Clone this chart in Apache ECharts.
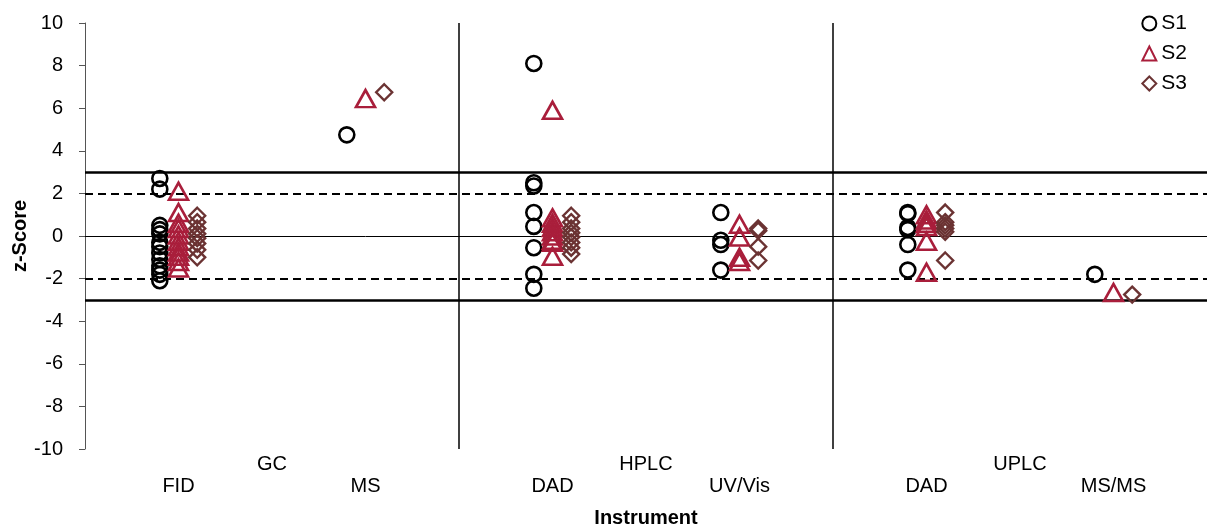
<!DOCTYPE html>
<html><head><meta charset="utf-8">
<script src="https://cdn.jsdelivr.net/npm/echarts@6/dist/echarts.min.js"></script>
<style>html,body{margin:0;padding:0;background:#fff}#c{width:1207px;height:529px}</style>
</head><body><div id="c"></div>
<script>
var groups = ['GC', 'HPLC', 'UPLC'];
var instruments = ['FID', 'MS', 'DAD', 'UV/Vis', 'DAD', 'MS/MS'];
var yTicks = [-10, -8, -6, -4, -2, 0, 2, 4, 6, 8, 10];
var s1 = [
  [2.7, 2.2, 0.5, 0.3, 0.1, -0.3, -0.5, -0.8, -1.1, -1.4, -1.6, -1.8, -2.1],
  [4.75],
  [8.1, 2.5, 2.35, 1.1, 0.45, -0.55, -1.8, -2.45],
  [1.1, -0.2, -0.4, -1.6],
  [1.1, 1.05, 0.4, 0.3, -0.4, -1.6],
  [-1.8]
];
var s2 = [
  [2.1, 1.1, 0.6, 0.35, 0.05, -0.25, -0.5, -0.75, -0.95, -1.2, -1.5],
  [6.45],
  [5.9, 0.85, 0.6, 0.4, 0.2, 0.0, -0.2, -0.3, -0.95],
  [0.55, -0.05, -1.0, -1.2],
  [1.0, 0.75, 0.6, 0.45, -0.25, -1.7],
  [-2.65]
];
var s3 = [
  [0.95, 0.65, 0.35, 0.1, -0.1, -0.35, -0.65, -1.0],
  [6.75],
  [0.95, 0.65, 0.35, 0.15, -0.05, -0.3, -0.55, -0.85],
  [0.35, 0.25, -0.5, -1.15],
  [1.1, 0.65, 0.5, 0.35, 0.2, -1.15],
  [-2.75]
];
var refSolid = [-3, 3];
var refDashed = [-2, 2];
var separators = [2, 4];

function pts(arr, off) {
  var out = [];
  arr.forEach(function (vals, i) {
    vals.forEach(function (v) { out.push([i + 0.5 + off, v]); });
  });
  return out;
}
var font = 'Liberation Sans, Arial, sans-serif';
var chart = echarts.init(document.getElementById('c'));
var markData = [];
refSolid.forEach(function (v) { markData.push({ yAxis: v, lineStyle: { color: '#000', width: 2.5, type: 'solid' } }); });
refDashed.forEach(function (v) { markData.push({ yAxis: v, lineStyle: { color: '#000', width: 2, type: [8, 5] } }); });
markData.push({ yAxis: 0, lineStyle: { color: '#000', width: 1, type: 'solid' } });
separators.forEach(function (v) { markData.push({ xAxis: v, lineStyle: { color: '#000', width: 1.5, type: 'solid' } }); });

chart.setOption({
  animation: false,
  textStyle: { fontFamily: font },
  grid: { left: 85, right: 0, top: 23, bottom: 80, containLabel: false, outerBoundsMode: 'none' },
  legend: {
    orient: 'vertical', right: 15, top: 8, itemGap: 9, itemWidth: 14, itemHeight: 14,
    textStyle: { fontSize: 21, color: '#000', fontFamily: font, padding: [0, 0, 0, 0] },
    data: ['S1', 'S2', 'S3']
  },
  xAxis: [
    { type: 'value', min: 0, max: 6, show: false },
    { type: 'category', data: instruments, position: 'bottom', axisLine: { show: false }, axisTick: { show: false },
      axisLabel: { fontSize: 20, color: '#000', margin: 27, fontFamily: font, interval: 0 },
      name: 'Instrument', nameLocation: 'middle', nameGap: 59, nameMoveOverlap: false,
      nameTextStyle: { fontSize: 20, fontWeight: 'bold', color: '#000', fontFamily: font } },
    { type: 'category', data: groups, position: 'bottom', axisLine: { show: false }, axisTick: { show: false },
      axisLabel: { fontSize: 20, color: '#000', margin: 5, fontFamily: font, interval: 0 } }
  ],
  yAxis: {
    type: 'value', min: yTicks[0], max: yTicks[yTicks.length - 1], interval: 2,
    axisLine: { show: true, onZero: false, lineStyle: { color: '#555', width: 1 } },
    axisTick: { show: true, inside: false, length: 6, lineStyle: { color: '#555' } },
    splitLine: { show: false },
    axisLabel: { fontSize: 20, color: '#000', margin: 22, fontFamily: font },
    name: 'z-Score', nameLocation: 'middle', nameGap: 55, nameMoveOverlap: false,
    nameTextStyle: { fontSize: 20, fontWeight: 'bold', color: '#000', fontFamily: font }
  },
  series: [
    { name: 'S1', type: 'scatter', xAxisIndex: 0, symbol: 'circle', symbolSize: 15,
      itemStyle: { color: 'rgba(0,0,0,0)', borderColor: '#000', borderWidth: 2.6, opacity: 1 },
      data: pts(s1, -0.1), z: 5,
      markLine: { silent: true, symbol: 'none', label: { show: false }, data: markData } },
    { name: 'S2', type: 'scatter', xAxisIndex: 0, symbol: 'triangle', symbolSize: [19, 17],
      itemStyle: { color: 'rgba(0,0,0,0)', borderColor: '#A91E3B', borderWidth: 2.6, opacity: 1 },
      data: pts(s2, 0), z: 5 },
    { name: 'S3', type: 'scatter', xAxisIndex: 0, symbol: 'diamond', symbolSize: 16,
      itemStyle: { color: 'rgba(0,0,0,0)', borderColor: '#6B3333', borderWidth: 2.4, opacity: 1 },
      data: pts(s3, 0.1), z: 5 }
  ]
});
</script></body></html>
